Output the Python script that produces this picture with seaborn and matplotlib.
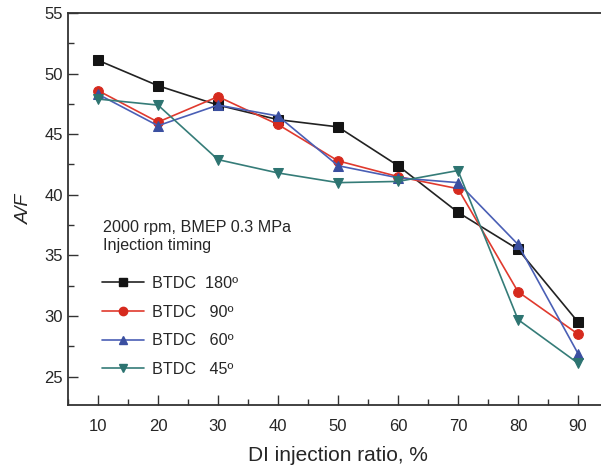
import matplotlib
matplotlib.use("Agg")
import matplotlib.pyplot as plt
import seaborn as sns
import pandas as pd
from matplotlib.lines import Line2D
from matplotlib.ticker import MultipleLocator

sns.set_style("ticks")
plt.rcParams['font.family'] = ['Liberation Sans', 'DejaVu Sans']

ratio = [10, 20, 30, 40, 50, 60, 70, 80, 90]
btdc180 = [51.1, 49.0, 47.4, 46.2, 45.6, 42.4, 38.55, 35.5, 29.5]
btdc90 = [48.6, 46.0, 48.1, 45.8, 42.8, 41.5, 40.5, 32.0, 28.5]
btdc60 = [48.3, 45.7, 47.4, 46.5, 42.4, 41.4, 41.0, 35.9, 26.9]
btdc45 = [47.9, 47.4, 42.9, 41.8, 41.0, 41.1, 42.0, 29.7, 26.1]
labels = ["BTDC  180º", "BTDC   90º", "BTDC   60º", "BTDC   45º"]
series = [btdc180, btdc90, btdc60, btdc45]

colors = ["#141414", "#d62a1e", "#3a4fa0", "#2d7471"]
line_colors = ["#222222", "#e03a2e", "#4a5fb5", "#357c78"]
markers = ["s", "o", "^", "v"]

df = pd.concat([pd.DataFrame({"ratio": ratio, "AF": s, "timing": l})
                for s, l in zip(series, labels)], ignore_index=True)

fig = plt.figure(figsize=(6.01, 4.69), dpi=100)
ax = fig.add_axes([68/601, 64/469, 540/601, 392/469])

handles = []
for lab, c, lc, m in zip(labels, colors, line_colors, markers):
    sub = df[df["timing"] == lab]
    sns.lineplot(data=sub, x="ratio", y="AF", ax=ax, color=lc, marker=m,
                 markersize=7, markerfacecolor=c, markeredgecolor=c,
                 linewidth=1.2, legend=False)
    handles.append(Line2D([0], [0], color=lc, marker=m, markersize=6,
                          markerfacecolor=c, markeredgecolor=c, linewidth=1.2))

ax.set_xlim(5, 95)
ax.set_ylim(22.65, 55)
ax.xaxis.set_major_locator(MultipleLocator(10))
ax.xaxis.set_minor_locator(MultipleLocator(5))
ax.yaxis.set_major_locator(MultipleLocator(5))
ax.yaxis.set_minor_locator(MultipleLocator(2.5))
ax.set_xticks(ratio)
ax.tick_params(which="major", direction="in", length=7, width=1, labelsize=12,
               top=False, right=False, color="#333333")
ax.tick_params(which="minor", direction="in", length=4, width=1,
               top=False, right=False, color="#333333")
ax.tick_params(axis="x", pad=10)
for sp in ax.spines.values():
    sp.set_color("#333333")
    sp.set_linewidth(1.3)

ax.set_xlabel("DI injection ratio, %", fontsize=15, labelpad=9)
ax.set_ylabel("A/F", fontsize=14, style="italic", labelpad=8)

ax.text(0.065, 0.389, "2000 rpm, BMEP 0.3 MPa\nInjection timing",
        transform=ax.transAxes, fontsize=11.6, va="bottom", ha="left",
        linespacing=1.2)

leg = ax.legend(handles, labels, loc="upper left", bbox_to_anchor=(0.036, 0.366),
                frameon=False, fontsize=11.6, handlelength=2.6, labelspacing=0.85,
                handletextpad=0.5)

fig.savefig("out.png", dpi=100)
